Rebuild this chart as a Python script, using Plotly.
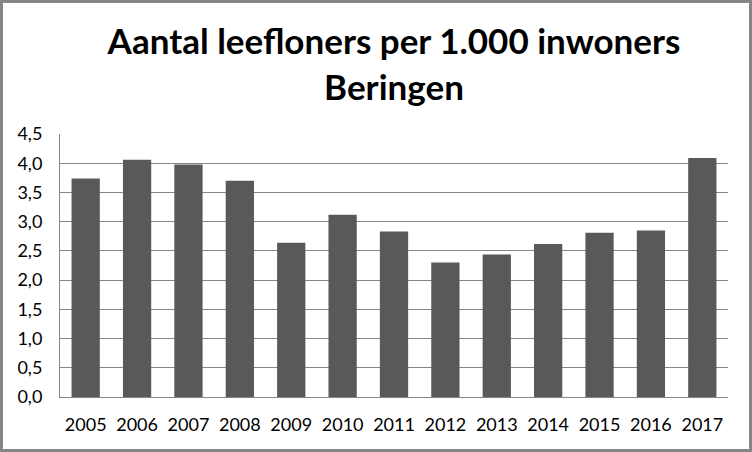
import plotly.graph_objects as go

years = ["2005", "2006", "2007", "2008", "2009", "2010", "2011",
         "2012", "2013", "2014", "2015", "2016", "2017"]
values = [3.74, 4.06, 3.98, 3.70, 2.64, 3.12, 2.83,
          2.30, 2.44, 2.62, 2.81, 2.85, 4.09]
title_text = "Aantal leefloners per 1.000 inwoners<br>Beringen"

W, H = 752, 452
L, R, T, B = 60, 24, 134, 55
pw, ph = W - L - R, H - T - B

def px_x(p):
    return (p - L) / pw

def px_y(p):
    return ((H - p) - B) / ph

fig = go.Figure(go.Bar(x=years, y=values, marker=dict(color="#595959", line=dict(width=0))))

fig.update_layout(
    width=W, height=H,
    margin=dict(l=L, r=R, t=T, b=B),
    paper_bgcolor="white", plot_bgcolor="white",
    separators=",.",
    bargap=0.45,
    showlegend=False,
    font=dict(family="Lato", color="black"),
    title=dict(text=title_text, x=0.5, xref="paper", xanchor="center",
               y=1 - 54 / H, yanchor="top", yref="container",
               font=dict(family="Lato", size=35, color="black", weight="bold")),
    shapes=[dict(type="rect", xref="paper", yref="paper",
                 x0=px_x(1.5), x1=px_x(750.5), y0=px_y(450.5), y1=px_y(1.5),
                 line=dict(color="#868686", width=3), layer="above")],
)
fig.update_xaxes(showline=True, linecolor="#868686", linewidth=1, ticks="",
                 tickfont=dict(size=18, color="black"), ticklabelstandoff=11,
                 showgrid=False)
fig.update_yaxes(range=[0, 4.5], dtick=0.5, tickformat=".1f",
                 showline=True, linecolor="#868686", linewidth=1,
                 showgrid=True, gridcolor="#868686", gridwidth=1,
                 ticks="", tickfont=dict(size=18, color="black"),
                 ticklabelstandoff=13, zeroline=False)

fig.write_html("out.html", config={"displayModeBar": False},
               post_script="document.body.style.margin='0';document.body.style.overflow='hidden';")
